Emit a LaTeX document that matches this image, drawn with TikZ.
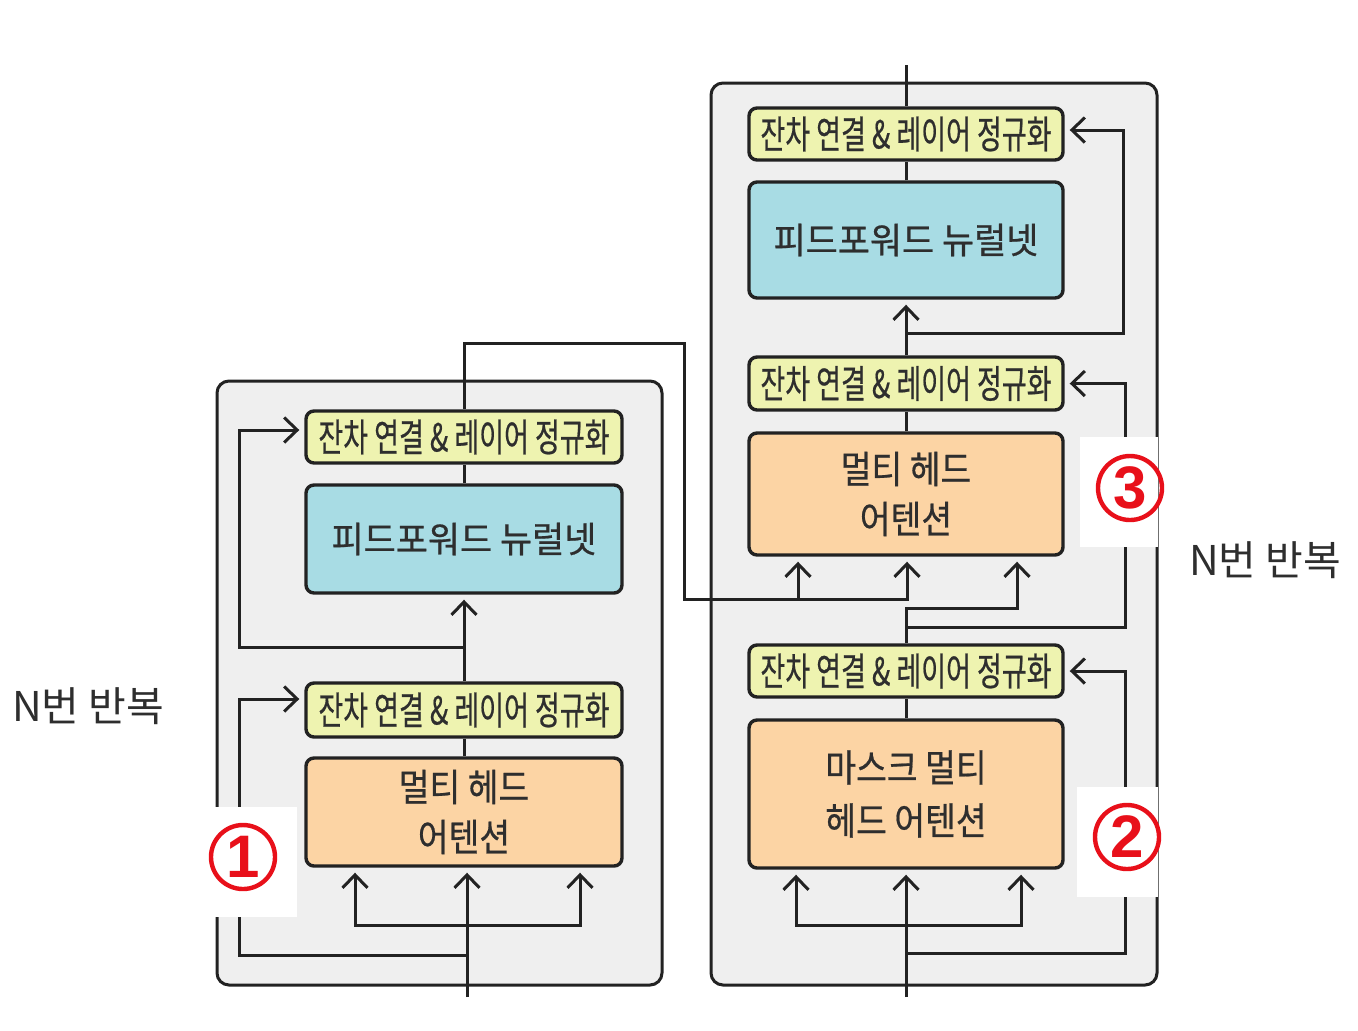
\documentclass[tikz,border=0pt]{standalone}
\usepackage{fontspec}
\setmainfont{Noto Sans CJK KR}
\newfontfamily\boxfont[FakeBold=0.6]{Noto Sans CJK KR}
\newfontfamily\numfont{Liberation Sans}
\usepackage{graphicx}
\usetikzlibrary{arrows.meta}
\definecolor{boxy}{HTML}{EEF3B0}
\definecolor{boxb}{HTML}{A8DCE4}
\definecolor{boxo}{HTML}{FCD4A4}
\definecolor{cont}{HTML}{EFEFEF}
\definecolor{ink}{HTML}{222222}
\definecolor{txt}{HTML}{2E2E2E}
\definecolor{circred}{HTML}{E8101A}
\newcommand{\restxt}{\scalebox{0.7}[1]{잔차 연결 \& 레이어 정규화}}
\newcommand{\sx}[1]{\scalebox{0.88}[1]{#1}}
\begin{document}
\begin{tikzpicture}[x=0.5pt,y=-0.5pt,
  container/.style={draw=ink, line width=1.5pt, fill=cont, rounded corners=6pt},
  blk/.style={draw=ink, line width=1.7pt, rounded corners=4pt, inner sep=0pt, text=txt, align=center},
  resbox/.style={blk, fill=boxy, minimum height=26pt, font=\boxfont\fontsize{19.3pt}{22pt}\selectfont},
  ffnbox/.style={blk, fill=boxb, font=\boxfont\fontsize{18pt}{22pt}\selectfont},
  attbox/.style={blk, fill=boxo, font=\boxfont\fontsize{19pt}{25pt}\selectfont},
  conn/.style={draw=ink, line width=1.5pt},
  arr/.style={conn, -{Straight Barb[length=6.5pt,width=12.5pt]}, shorten >=2.5pt},
  patch/.style={fill=white, draw=none},
  circnum/.style={circle, draw=circred, line width=2.2pt, minimum size=32pt, inner sep=0pt, text=circred, font=\numfont\bfseries\fontsize{30pt}{30pt}\selectfont},
  reptxt/.style={text=txt, font=\fontsize{20.5pt}{24pt}\selectfont, inner sep=0pt}
]
\useasboundingbox (0,0) rectangle (1358,1030);
\fill[white] (0,0) rectangle (1358,1030);

% containers
\draw[container] (217,381) rectangle (662,985);
\draw[container] (711,83) rectangle (1157,985);

% left boxes
\node[resbox, minimum width=158pt] (lRes2) at (464,437) {\restxt};
\node[ffnbox, minimum width=158pt, minimum height=54pt] (lFFN) at (464,539) {\scalebox{0.97}[1]{피드포워드 뉴럴넷}};
\node[resbox, minimum width=158pt, minimum height=27pt] (lRes1) at (464,710) {\restxt};
\node[attbox, minimum width=158pt, minimum height=54pt] (lMHA) at (464,812) {\sx{멀티 헤드}\\\sx{어텐션}};

% right boxes
\node[resbox, minimum width=157pt] (rRes3) at (906,134) {\restxt};
\node[ffnbox, minimum width=157pt, minimum height=58pt] (rFFN) at (906,240) {\scalebox{0.97}[1]{피드포워드 뉴럴넷}};
\node[resbox, minimum width=157pt, minimum height=26.5pt] (rRes2) at (906,383.5) {\restxt};
\node[attbox, minimum width=157pt, minimum height=61pt] (rMHA) at (906,494) {\sx{멀티 헤드}\\\sx{어텐션}};
\node[resbox, minimum width=157pt] (rRes1) at (906,671) {\restxt};
\node[attbox, minimum width=157pt, minimum height=74pt, font=\boxfont\fontsize{19pt}{26.5pt}\selectfont] (rMMHA) at (906,794) {\sx{마스크 멀티}\\\sx{헤드 어텐션}};

% left connectors
\coordinate (lin) at (467,997);
\coordinate (lsa) at (467,925);
\coordinate (lsb) at (467,955);
\coordinate (lsc) at (464,647);
\draw[arr] (lin) -- (lin |- lMHA.south);
\draw[arr] (lsa) -| ([xshift=-54.5pt]lMHA.south);
\draw[arr] (lsa) -| ([xshift=58pt]lMHA.south);
\draw[arr] (lsb) -- (239,955) |- ([yshift=5.5pt]lRes1.west);
\draw[conn] (lMHA.north) -- (lRes1.south);
\draw[arr] (lRes1.north) -- (lFFN.south);
\draw[arr] (lsc) -- (239,647) |- ([yshift=3.5pt]lRes2.west);
\draw[conn] (lFFN.north) -- (lRes2.south);
\coordinate (lcr) at (684,599);
\draw[arr] (lRes2.north) -- (464,343) -- (684,343) -- (lcr) -| ([xshift=-54pt]rMHA.south);
\draw[arr] (lcr) -| ([xshift=0.5pt]rMHA.south);

% right connectors
\coordinate (rin) at (906,997);
\coordinate (rsa) at (906,925);
\coordinate (rsb) at (906,953);
\coordinate (rsc) at (906,627);
\coordinate (rsd) at (906,333);
\coordinate (rout) at (906,65);
\draw[arr] (rin) -- (rMMHA.south);
\draw[arr] (rsa) -| ([xshift=-55pt]rMMHA.south);
\draw[arr] (rsa) -| ([xshift=57.5pt]rMMHA.south);
\draw[arr] (rsb) -- (1125,953) |- (rRes1.east);
\draw[conn] (rMMHA.north) -- (rRes1.south);
\draw[arr] (rRes1.north) -- (906,608) -| ([xshift=55.5pt]rMHA.south);
\draw[arr] (rsc) -- (1125,627) |- (rRes2.east);
\draw[conn] (rMHA.north) -- (rRes2.south);
\draw[arr] (rRes2.north) -- (rFFN.south);
\draw[arr] (rsd) -- (1123,333) |- ([yshift=2pt]rRes3.east);
\draw[conn] (rFFN.north) -- (rRes3.south);
\draw[conn] (rRes3.north) -- (rout);

% circled numbers
\fill[patch] (215,807) rectangle (297,917);
\fill[patch] (1077,787) rectangle (1158,897);
\fill[patch] (1080,437) rectangle (1158,547);
\node[circnum] (n1) at (243,857) {1};
\node[circnum] (n2) at (1127,837) {2};
\node[circnum] (n3) at (1130,488) {3};

% repeat labels
\node[reptxt] (repL) at (88,706) {N번 반복};
\node[reptxt] (repR) at (1265,560) {N번 반복};
\end{tikzpicture}
\end{document}
